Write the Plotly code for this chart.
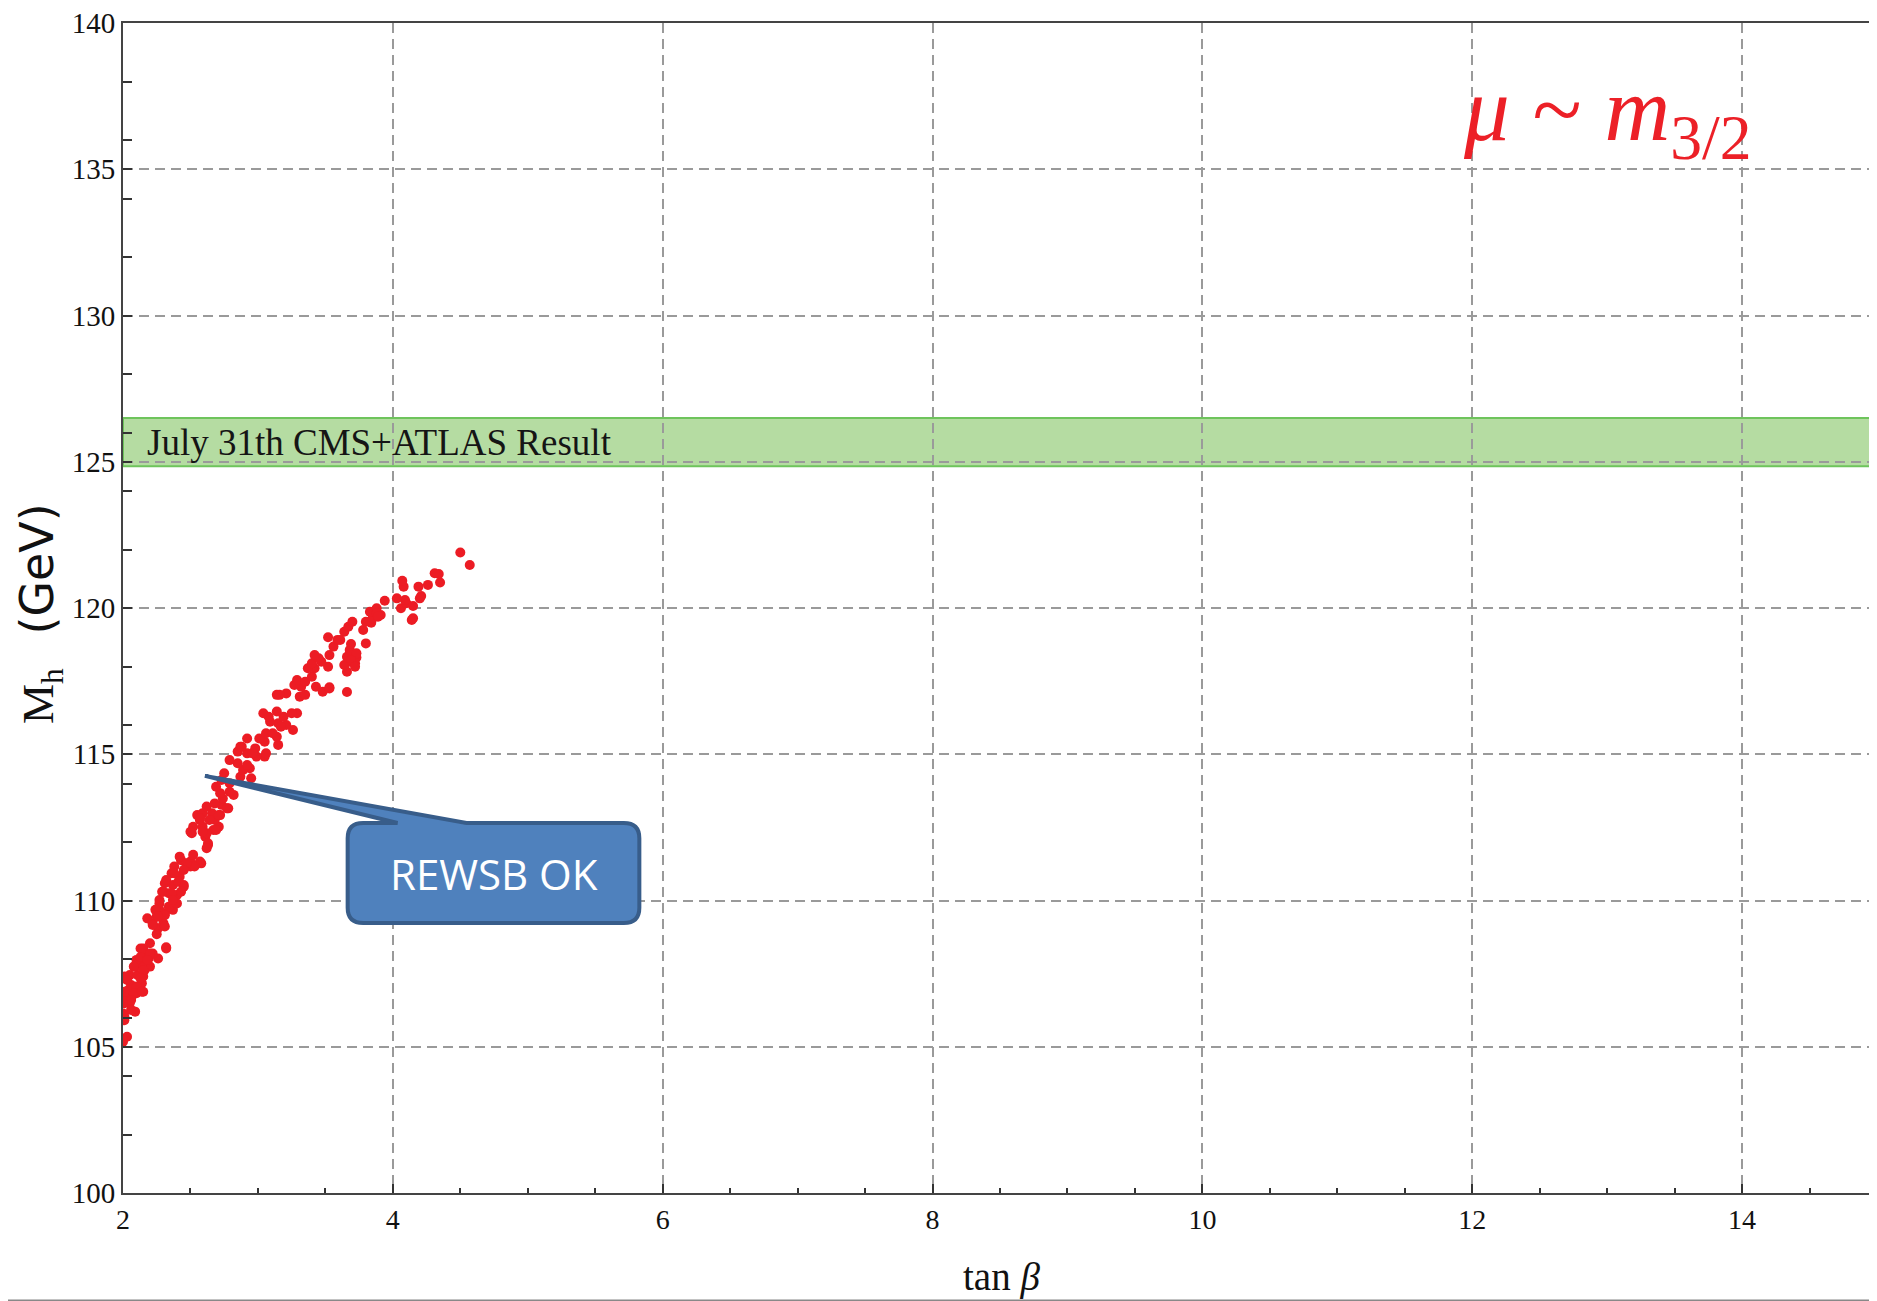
import plotly.graph_objects as go

# ---- data ----
tan_beta = [
    2.00, 2.03, 2.01, 2.00, 2.09, 2.01, 2.05, 2.06, 2.01, 2.10, 2.15, 2.04, 2.06, 2.14, 2.15, 2.05, 2.01, 2.11,
    2.16, 2.20, 2.09, 2.14, 2.10, 2.19, 2.26, 2.22, 2.15, 2.13, 2.20, 2.32,
    2.26, 2.30, 2.22, 2.18, 2.25, 2.31, 2.37, 2.27, 2.34, 2.40, 2.27, 2.40, 2.34, 2.29, 2.45, 2.37, 2.31, 2.42,
    2.36, 2.50, 2.58, 2.43,
    2.42, 2.50, 2.57, 2.53, 2.38,
    2.63, 2.61, 2.71, 2.67, 2.62, 2.59, 2.51, 2.52, 2.68, 2.57, 2.55, 2.72, 2.66, 2.59, 2.62, 2.78, 2.73, 2.82,
    2.74, 2.79, 2.72, 2.69, 2.79, 2.73, 2.75,
    2.87, 2.95, 2.94, 2.89, 2.92, 2.85, 2.79, 3.05, 2.99, 2.92, 2.85, 2.98, 2.87, 2.92,
    3.15, 3.14, 3.05, 3.01, 3.06, 3.26, 3.21, 3.15, 3.09, 3.29, 3.19, 3.14, 3.04,
    3.14, 3.21, 3.29, 3.43, 3.48,
    3.53, 3.31, 3.35, 3.32, 3.27, 3.29, 3.35, 3.40, 3.52, 3.42, 3.37, 3.40, 3.47, 3.45, 3.42, 3.53, 3.56,
    3.66, 3.72, 3.68, 3.64, 3.66, 3.73, 3.70, 3.68, 3.80, 3.69, 3.59, 3.52, 3.64, 3.67, 3.70, 3.78,
    3.84, 3.80, 3.85, 3.91, 3.83, 3.88, 3.94, 4.14, 4.15, 4.15, 4.06, 4.10, 4.09, 4.03, 4.20, 4.21, 4.08, 4.07,
    4.19, 4.26, 4.35, 4.34, 4.31, 4.57, 4.50,
    2.68, 2.77, 2.57, 2.64, 2.71, 2.69, 2.59, 2.50, 2.63, 2.62,
    2.52, 2.47, 2.45, 2.38, 2.32, 2.41, 2.45, 2.30, 2.36, 2.43, 2.37, 2.27, 2.24, 2.31, 2.26, 2.22, 2.31, 2.25,
    2.32, 2.15, 2.13, 2.20, 2.18, 2.08, 2.15, 2.13, 2.03, 2.10, 2.01, 2.08, 2.14, 2.06, 2.00, 2.06, 2.01, 2.00,
    3.61, 3.73, 3.69, 3.88, 3.89, 3.53, 3.25, 3.17, 3.08, 3.11, 3.06, 2.96, 2.88, 3.16, 3.66, 3.72,
]
m_h = [
    105.17, 105.34, 105.91, 106.14, 106.20, 106.49, 106.49, 106.66, 106.77, 106.83, 106.88, 106.94, 107.11, 107.17, 107.40, 107.45, 107.40, 107.45,
    107.62, 107.74, 107.74, 107.85, 107.97, 108.02, 108.02, 108.19, 108.19, 108.36, 108.54, 108.36,
    109.05, 109.22, 109.22, 109.39, 109.45, 109.56, 109.68, 109.68, 109.79, 109.90, 110.02, 110.19, 110.25, 110.30, 110.53, 110.53, 110.59, 110.81,
    110.93, 111.16, 111.27, 111.38,
    111.50, 111.33, 111.33, 111.16, 111.16,
    111.90, 112.18, 112.52, 112.41, 112.30, 112.52, 112.30, 112.52, 112.75, 112.75, 112.92, 112.92, 112.98, 112.98, 113.21, 113.15, 113.27, 113.61,
    113.49, 113.72, 113.67, 113.89, 114.01, 114.12, 114.35,
    114.23, 114.18, 114.52, 114.46, 114.63, 114.69, 114.80, 114.92, 114.92, 115.03, 115.09, 115.20, 115.26, 115.54,
    115.32, 115.60, 115.43, 115.54, 115.72, 115.83, 116.00, 116.06, 116.11, 116.40, 116.28, 116.46, 116.40,
    117.03, 117.08, 117.43, 117.31, 117.14,
    117.29, 116.97, 117.03, 117.31, 117.37, 117.54, 117.48, 117.65, 117.99, 117.94, 117.94, 118.11, 118.16, 118.28, 118.39, 118.39, 118.68,
    117.82, 118.11, 118.16, 118.05, 118.33, 118.31, 118.39, 118.56, 118.79, 118.77, 118.91, 119.00, 119.19, 119.36, 119.53, 119.25,
    119.50, 119.53, 119.65, 119.76, 119.87, 119.99, 120.25, 119.59, 119.65, 120.07, 119.99, 120.16, 120.27, 120.33, 120.33, 120.41, 120.73, 120.93,
    120.73, 120.79, 120.87, 121.16, 121.19, 121.47, 121.90,
    113.32, 113.15, 112.81, 112.75, 112.92, 112.41, 112.35, 112.35, 111.96, 111.79,
    111.56, 111.27, 111.04, 110.93, 110.70, 110.64, 110.47, 110.30, 110.25, 110.30, 110.02, 109.90, 109.68, 109.50, 109.45, 109.16, 109.11, 108.85,
    108.40, 108.36, 108.07, 108.19, 107.97, 107.74, 107.62, 107.34, 107.28, 107.06, 106.88, 106.83, 106.88, 106.60, 106.49, 106.26, 106.03, 105.23,
    118.91, 118.45, 118.22, 119.82, 119.70, 117.25, 116.40, 115.94, 116.28, 115.72, 115.03, 115.03, 115.26, 117.03, 117.13, 117.99,
]

x_ticks = [2, 4, 6, 8, 10, 12, 14]
y_ticks = [100, 105, 110, 115, 120, 125, 130, 135, 140]
x_range = [2, 15]
y_range = [100, 140]
band_low, band_high = 124.85, 126.5
band_label = "July 31th CMS+ATLAS Result"
callout_label = "REWSB OK"

SERIF = "Liberation Serif"

fig = go.Figure()
fig.add_trace(go.Scatter(
    x=tan_beta, y=m_h, mode="markers",
    marker=dict(color="#ec1c24", size=10, line=dict(width=0)),
    showlegend=False, hoverinfo="x+y",
))

# experimental band
fig.add_shape(type="rect", xref="paper", yref="y", x0=0, x1=1, y0=band_low, y1=band_high,
              fillcolor="rgb(181,220,162)", line=dict(color="rgb(110,196,92)", width=2), layer="below")
fig.add_annotation(x=2.16, y=(band_low + band_high) / 2, xref="x", yref="y", text=band_label,
                   showarrow=False, xanchor="left", yanchor="middle",
                   font=dict(family=SERIF, size=37, color="#151515"))

# callout (rounded box with a pointer)
bx0, bx1, by0, by1 = 3.665, 5.827, 109.23, 112.65
rx, ry = 0.115, 0.52
tipx, tipy = 2.607, 114.26
wa, wb = 4.035, 4.546
path = (f"M {bx0+rx},{by1} L {wa},{by1} L {tipx},{tipy} L {wb},{by1} L {bx1-rx},{by1} "
        f"Q {bx1},{by1} {bx1},{by1-ry} L {bx1},{by0+ry} Q {bx1},{by0} {bx1-rx},{by0} "
        f"L {bx0+rx},{by0} Q {bx0},{by0} {bx0},{by0+ry} L {bx0},{by1-ry} Q {bx0},{by1} {bx0+rx},{by1} Z")
fig.add_shape(type="path", path=path, xref="x", yref="y", fillcolor="#4f81bd",
              line=dict(color="#385d8a", width=4), layer="above")
fig.add_annotation(x=(bx0 + bx1) / 2, y=(by0 + by1) / 2, xref="x", yref="y", text=callout_label,
                   showarrow=False, xanchor="center", yanchor="middle",
                   font=dict(family="Open Sans", size=42, color="white"))

# title-like label
fig.add_annotation(x=0.930, y=0.971, xref="paper", yref="paper",
                   text="<i>μ</i> ~ <i>m</i><sub>3/2</sub>", showarrow=False,
                   xanchor="right", yanchor="top",
                   font=dict(family=SERIF, size=91, color="#ec2027"))

# axis titles
fig.add_annotation(x=0.5006, y=-0.072, xref="paper", yref="paper", text="tan <i>β</i>",
                   showarrow=False, xanchor="center", yanchor="middle",
                   font=dict(family=SERIF, size=39, color="#111"))
fig.add_annotation(x=-0.0472, y=0.495, xref="paper", yref="paper",
                   text='M<sub>h</sub>&nbsp;&nbsp;&nbsp;<span style="font-family:DejaVu Sans;font-size:46px">(GeV)</span>',
                   textangle=-90, showarrow=False, xanchor="center", yanchor="middle",
                   font=dict(family=SERIF, size=45, color="#111"))

# screenshot bottom edge line
fig.add_shape(type="line", xref="paper", yref="paper", x0=-0.0702, x1=1, y0=-0.0918, y1=-0.0918,
              line=dict(color="#888888", width=2))

grid = dict(showgrid=True, gridcolor="#9a9a9a", gridwidth=1.5, griddash="10px,6px")
fig.update_xaxes(range=x_range, tickvals=x_ticks, ticks="inside", ticklen=9, tickwidth=1.5,
                 tickcolor="#333", showline=True, linecolor="#444", linewidth=2, mirror=True,
                 zeroline=False, tickfont=dict(family=SERIF, size=28, color="#111"),
                 ticklabeloverflow="allow",
                 minor=dict(dtick=0.5, tick0=2, ticks="inside", ticklen=5, tickwidth=1.5, tickcolor="#333", showgrid=False),
                 **grid)
fig.update_yaxes(range=y_range, tickvals=y_ticks, ticks="inside", ticklen=9, tickwidth=1.5,
                 tickcolor="#333", showline=True, linecolor="#444", linewidth=2, mirror=False,
                 zeroline=False, tickfont=dict(family=SERIF, size=29, color="#111"),
                 ticklabeloverflow="allow",
                 minor=dict(dtick=2, tick0=100, ticks="inside", ticklen=9, tickwidth=1.5, tickcolor="#333", showgrid=False),
                 **grid)

# the page body has an 8px margin, so the figure is shifted by that amount
fig.update_layout(width=1869, height=1293, margin=dict(l=115, r=0, t=15, b=108),
                  plot_bgcolor="white", paper_bgcolor="white", showlegend=False)

fig.write_html("out.html")
